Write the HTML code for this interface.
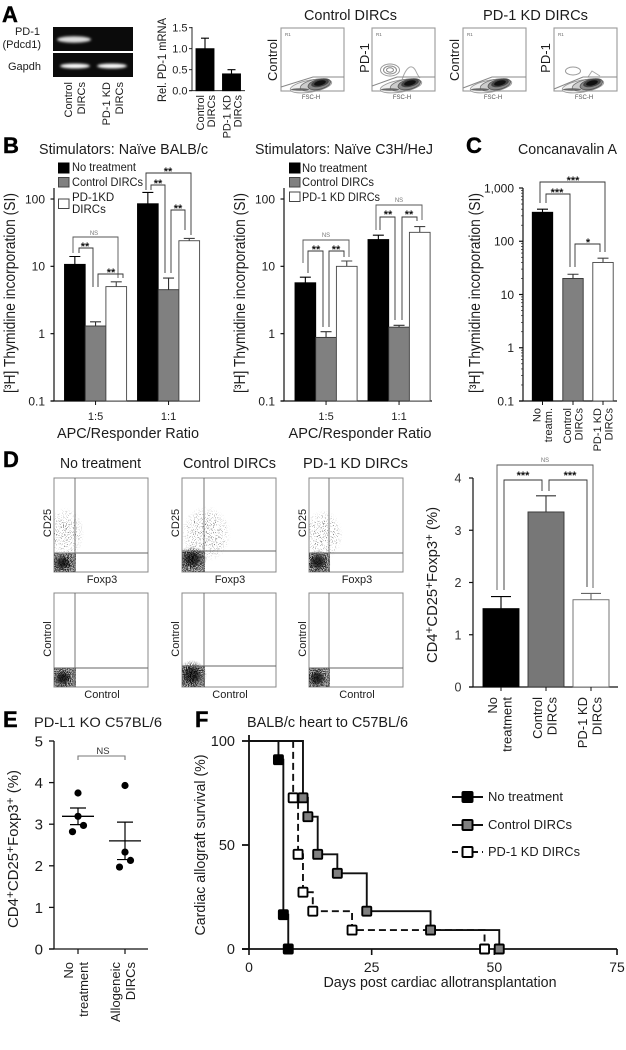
<!DOCTYPE html>
<html lang="en">
<head>
<meta charset="utf-8">
<title>PD-1 KD DIRCs figure</title>
<style>
html,body{margin:0;padding:0;background:#fff;}
#figure{display:block;width:626px;height:1050px;filter:blur(0.35px);font-family:"Liberation Sans",Arial,sans-serif;fill:#1c1c1c;}
</style>
</head>
<body>
<svg id="figure" xmlns="http://www.w3.org/2000/svg" width="626" height="1050" viewBox="0 0 626 1050">
<defs>
  <filter id="speckle" x="-5%" y="-5%" width="110%" height="110%"><feTurbulence type="fractalNoise" baseFrequency="0.95" numOctaves="1" seed="4" result="n"/><feColorMatrix in="n" type="matrix" values="0 0 0 0 0  0 0 0 0 0  0 0 0 0 0  7 0 0 0 -3" result="t"/><feComposite in="SourceGraphic" in2="t" operator="in"/></filter>
  <filter id="speckleSparse" x="-5%" y="-5%" width="110%" height="110%"><feTurbulence type="fractalNoise" baseFrequency="0.9" numOctaves="1" seed="9" result="n"/><feColorMatrix in="n" type="matrix" values="0 0 0 0 0  0 0 0 0 0  0 0 0 0 0  10 0 0 0 -5.8" result="t"/><feComposite in="SourceGraphic" in2="t" operator="in"/></filter>
  <filter id="soft" x="-30%" y="-60%" width="160%" height="220%"><feGaussianBlur stdDeviation="1.3"/></filter>
  <radialGradient id="denseCloud"><stop offset="0" stop-color="#000" stop-opacity="1"/><stop offset="0.6" stop-color="#111" stop-opacity="0.9"/><stop offset="1" stop-color="#333" stop-opacity="0"/></radialGradient>
  <radialGradient id="sparseCloud"><stop offset="0" stop-color="#333" stop-opacity="0.85"/><stop offset="0.7" stop-color="#444" stop-opacity="0.55"/><stop offset="1" stop-color="#555" stop-opacity="0"/></radialGradient>
  <g id="contour">
    <ellipse cx="-9" cy="3" rx="21" ry="6" transform="rotate(-10 -9 3)" fill="#eee" stroke="#999" stroke-width="0.9"/>
    <ellipse cx="-5" cy="2" rx="15" ry="5.5" transform="rotate(-12 -5 2)" fill="#ccc" stroke="#777" stroke-width="0.8"/>
    <ellipse cx="-1" cy="1" rx="11.5" ry="5" transform="rotate(-14)" fill="#888" stroke="#555" stroke-width="0.8"/>
    <ellipse cx="0" cy="0" rx="9" ry="3.8" transform="rotate(-14)" fill="#444"/>
    <ellipse cx="0" cy="0" rx="6" ry="2.4" transform="rotate(-14)" fill="#111"/>
    <ellipse cx="-20" cy="6.5" rx="9" ry="1.3" fill="#666"/>
  </g>
</defs>

<g font-weight="700" font-size="22" fill="#000" stroke="#000" stroke-width="0.4">
  <text x="2" y="22">A</text>
  <text x="3" y="153">B</text>
  <text x="466" y="153">C</text>
  <text x="3" y="467">D</text>
  <text x="3" y="727">E</text>
  <text x="195" y="727">F</text>
</g>

<g>
  <text x="40" y="35" text-anchor="end" font-size="11">PD-1</text>
  <text x="41" y="48" text-anchor="end" font-size="11">(Pdcd1)</text>
  <text x="41" y="70" text-anchor="end" font-size="11">Gapdh</text>
  <rect x="53" y="27" width="80" height="24" fill="#0b0b0b"/>
  <rect x="53" y="53" width="80" height="24" fill="#0b0b0b"/>
  <ellipse cx="74" cy="39.5" rx="17" ry="3.2" fill="#ddd" filter="url(#soft)"/>
  <ellipse cx="75" cy="66" rx="15" ry="2.4" fill="#fff" filter="url(#soft)"/>
  <ellipse cx="112" cy="66" rx="15" ry="2.4" fill="#fff" filter="url(#soft)"/>
  <text transform="translate(72,82) rotate(-90)" text-anchor="end" font-size="11">Control</text>
  <text transform="translate(85,82) rotate(-90)" text-anchor="end" font-size="11">DIRCs</text>
  <text transform="translate(110,82) rotate(-90)" text-anchor="end" font-size="11">PD-1 KD</text>
  <text transform="translate(123,82) rotate(-90)" text-anchor="end" font-size="11">DIRCs</text>
</g>

<g>
  <text x="304" y="20" font-size="15" textLength="93" lengthAdjust="spacingAndGlyphs">Control DIRCs</text>
  <text x="483" y="20" font-size="15" textLength="105" lengthAdjust="spacingAndGlyphs">PD-1 KD DIRCs</text>
  <g>
    <rect x="281" y="28" width="63" height="63" fill="#fff" stroke="#999" stroke-width="1.1"/>
    <use href="#contour" x="320" y="83"/>
    <path d="M281 87L313 77H344" fill="none" stroke="#888"/>
    <text x="285" y="36" font-size="4.5" fill="#666">R1</text>
    <text x="311" y="99" font-size="6" text-anchor="middle" fill="#555">FSC-H</text>
    <text transform="translate(277,60) rotate(-90)" font-size="13" text-anchor="middle">Control</text>
  </g>
  <g>
    <rect x="372" y="28" width="63" height="63" fill="#fff" stroke="#999" stroke-width="1.1"/>
    <ellipse cx="390" cy="70" rx="9.5" ry="6" fill="none" stroke="#999"/>
    <ellipse cx="390" cy="70" rx="6.5" ry="4" fill="none" stroke="#888"/>
    <ellipse cx="390" cy="70" rx="3.5" ry="2.2" fill="none" stroke="#888"/>
    <path d="M402 80C405 70 409 66 412 67C416 68 416 74 420 78" fill="none" stroke="#aaa"/>
    <use href="#contour" x="410" y="83"/>
    <path d="M372 86L397 77H435" fill="none" stroke="#888"/>
    <text x="376" y="36" font-size="4.5" fill="#666">R1</text>
    <text x="402" y="99" font-size="6" text-anchor="middle" fill="#555">FSC-H</text>
    <text transform="translate(369,58) rotate(-90)" font-size="13" text-anchor="middle">PD-1</text>
  </g>
  <g>
    <rect x="463" y="28" width="63" height="63" fill="#fff" stroke="#999" stroke-width="1.1"/>
    <use href="#contour" x="500" y="83"/>
    <path d="M463 88L492 77H526" fill="none" stroke="#888"/>
    <text x="467" y="36" font-size="4.5" fill="#666">R1</text>
    <text x="493" y="99" font-size="6" text-anchor="middle" fill="#555">FSC-H</text>
    <text transform="translate(459,60) rotate(-90)" font-size="13" text-anchor="middle">Control</text>
  </g>
  <g>
    <rect x="554" y="28" width="63" height="63" fill="#fff" stroke="#999" stroke-width="1.1"/>
    <ellipse cx="573" cy="71" rx="7.5" ry="4" fill="none" stroke="#999"/>
    <path d="M588 77L592 71L600 76" fill="none" stroke="#aaa"/>
    <use href="#contour" x="592" y="83"/>
    <path d="M554 89L583 77H617" fill="none" stroke="#888"/>
    <text x="558" y="36" font-size="4.5" fill="#666">R1</text>
    <text x="584" y="99" font-size="6" text-anchor="middle" fill="#555">FSC-H</text>
    <text transform="translate(550,58) rotate(-90)" font-size="13" text-anchor="middle">PD-1</text>
  </g>
</g>

<g id="mrnaChart">
  <text transform="translate(166,60) rotate(-90)" text-anchor="middle" font-size="11.5" textLength="84" lengthAdjust="spacingAndGlyphs">Rel. PD-1 mRNA</text>
</g>

<g id="balbChart">
  <text x="39" y="154" font-size="15" textLength="169" lengthAdjust="spacingAndGlyphs">Stimulators: Naïve BALB/c</text>
  <text transform="translate(15,293) rotate(-90)" text-anchor="middle" font-size="15.5" textLength="200" lengthAdjust="spacingAndGlyphs">[³H] Thymidine incorporation (SI)</text>
  <text x="128" y="438" text-anchor="middle" font-size="15" textLength="142" lengthAdjust="spacingAndGlyphs">APC/Responder Ratio</text>
  <g>
    <rect x="58.5" y="163" width="10.5" height="10" fill="#000" stroke="#000"/>
    <rect x="58.5" y="177.5" width="10.5" height="9.5" fill="#808080" stroke="#444"/>
    <rect x="58.5" y="199" width="10.5" height="9.5" fill="#fff" stroke="#444"/>
    <text x="72" y="171" font-size="11.5" textLength="64" lengthAdjust="spacingAndGlyphs">No treatment</text>
    <text x="72" y="186" font-size="11.5" textLength="71" lengthAdjust="spacingAndGlyphs">Control DIRCs</text>
    <text x="72" y="201" font-size="11.5">PD-1KD</text>
    <text x="72" y="213" font-size="11.5">DIRCs</text>
  </g>
</g>

<g id="c3hChart">
  <text x="255" y="154" font-size="15" textLength="178" lengthAdjust="spacingAndGlyphs">Stimulators: Naïve C3H/HeJ</text>
  <text transform="translate(245,293) rotate(-90)" text-anchor="middle" font-size="15.5" textLength="200" lengthAdjust="spacingAndGlyphs">[³H] Thymidine incorporation (SI)</text>
  <text x="360" y="438" text-anchor="middle" font-size="15" textLength="143" lengthAdjust="spacingAndGlyphs">APC/Responder Ratio</text>
  <g>
    <rect x="289.5" y="163" width="10.5" height="10" fill="#000" stroke="#000"/>
    <rect x="289.5" y="177.5" width="10.5" height="9.5" fill="#808080" stroke="#444"/>
    <rect x="289.5" y="192" width="10.5" height="9.5" fill="#fff" stroke="#444"/>
    <text x="302" y="172" font-size="11.5" textLength="65" lengthAdjust="spacingAndGlyphs">No treatment</text>
    <text x="302" y="186" font-size="11.5" textLength="72" lengthAdjust="spacingAndGlyphs">Control DIRCs</text>
    <text x="302" y="201" font-size="11.5" textLength="78" lengthAdjust="spacingAndGlyphs">PD-1 KD DIRCs</text>
  </g>
</g>

<g id="conaChart">
  <text x="518" y="154" font-size="14.5" textLength="99" lengthAdjust="spacingAndGlyphs">Concanavalin A</text>
  <text transform="translate(480,293) rotate(-90)" text-anchor="middle" font-size="15.5" textLength="200" lengthAdjust="spacingAndGlyphs">[³H] Thymidine incorporation (SI)</text>
</g>

<g fill="none" stroke="#333" stroke-width="0.9">
  <path d="M73 253V237H118V278" stroke="#555"/>
  <path d="M79 253V248H93V287"/>
  <path d="M98 287V274H123V278"/>
  <path d="M146 190V173H191V235"/>
  <path d="M151 190V185H165V273"/>
  <path d="M171 273V210H185V230"/>
  <path d="M303 263V240H349V257" stroke="#555"/>
  <path d="M308 273V251H323V327"/>
  <path d="M329 327V251H344V257"/>
  <path d="M376 230V205H422V220" stroke="#555"/>
  <path d="M380 230V217H395V320"/>
  <path d="M402 320V217H417V221"/>
  <path d="M540 203V182H605V252"/>
  <path d="M546 203V194H570V267"/>
  <path d="M575 267V244H600V252"/>
  <path d="M497 590V465H593V588" stroke="#555"/>
  <path d="M504 590V480H542V491"/>
  <path d="M549 491V480H587V587"/>
  <path d="M78 760V756H125V760" stroke="#777" stroke-width="1.1"/>
</g>
<g text-anchor="middle" font-size="11" font-weight="700" fill="#111">
  <text x="94" y="235" font-size="6" font-weight="400" fill="#777">NS</text>
  <text x="85" y="250">**</text>
  <text x="111" y="276">**</text>
  <text x="168" y="175">**</text>
  <text x="158" y="187">**</text>
  <text x="178" y="212">**</text>
  <text x="326" y="237" font-size="6" font-weight="400" fill="#777">NS</text>
  <text x="316" y="253">**</text>
  <text x="336" y="253">**</text>
  <text x="399" y="202" font-size="6" font-weight="400" fill="#777">NS</text>
  <text x="388" y="218">**</text>
  <text x="409" y="218">**</text>
  <text x="573" y="184">***</text>
  <text x="557" y="196">***</text>
  <text x="588" y="246">*</text>
  <text x="545" y="462" font-size="6" font-weight="400" fill="#777">NS</text>
  <text x="523" y="479">***</text>
  <text x="570" y="479">***</text>
  <text x="103" y="754" font-size="9.5" font-weight="400" fill="#333">NS</text>
</g>

<g id="dFlow">
  <text x="60" y="468" font-size="15" textLength="81" lengthAdjust="spacingAndGlyphs">No treatment</text>
  <text x="183" y="468" font-size="15" textLength="93" lengthAdjust="spacingAndGlyphs">Control DIRCs</text>
  <text x="303" y="468" font-size="15" textLength="105" lengthAdjust="spacingAndGlyphs">PD-1 KD DIRCs</text>
</g>

<g id="tregChart">
  <text transform="translate(437,585) rotate(-90)" text-anchor="middle" font-size="15" textLength="156" lengthAdjust="spacingAndGlyphs">CD4<tspan dy="-4" font-size="12">+</tspan><tspan dy="4">CD25</tspan><tspan dy="-4" font-size="12">+</tspan><tspan dy="4">Foxp3</tspan><tspan dy="-4" font-size="12">+</tspan><tspan dy="4"> (%)</tspan></text>
</g>

<g id="koChart">
  <text x="34" y="727" font-size="14" textLength="128" lengthAdjust="spacingAndGlyphs">PD-L1 KO C57BL/6</text>
  <text transform="translate(18,849) rotate(-90)" text-anchor="middle" font-size="15" textLength="158" lengthAdjust="spacingAndGlyphs">CD4<tspan dy="-4" font-size="12">+</tspan><tspan dy="4">CD25</tspan><tspan dy="-4" font-size="12">+</tspan><tspan dy="4">Foxp3</tspan><tspan dy="-4" font-size="12">+</tspan><tspan dy="4"> (%)</tspan></text>
</g>

<g id="survivalChart">
  <text x="247" y="727" font-size="14.5" textLength="161" lengthAdjust="spacingAndGlyphs">BALB/c heart to C57BL/6</text>
  <text transform="translate(205,845) rotate(-90)" text-anchor="middle" font-size="14.5" textLength="181" lengthAdjust="spacingAndGlyphs">Cardiac allograft survival (%)</text>
  <text x="440" y="987" text-anchor="middle" font-size="14.5" textLength="233" lengthAdjust="spacingAndGlyphs">Days post cardiac allotransplantation</text>
  <g>
    <path d="M452 797H483" stroke="#111" stroke-width="2"/>
    <rect x="462.5" y="792" width="10" height="10" rx="1" fill="#000" stroke="#000" stroke-width="2"/>
    <text x="488" y="801" font-size="13" textLength="75" lengthAdjust="spacingAndGlyphs">No treatment</text>
    <path d="M452 825H483" stroke="#111" stroke-width="2"/>
    <rect x="462.5" y="820" width="10" height="10" rx="1" fill="#808080" stroke="#000" stroke-width="2"/>
    <text x="488" y="829" font-size="13" textLength="84" lengthAdjust="spacingAndGlyphs">Control DIRCs</text>
    <path d="M452 852H483" stroke="#111" stroke-width="2" stroke-dasharray="6 4"/>
    <rect x="462.5" y="847" width="10" height="10" rx="1" fill="#fff" stroke="#000" stroke-width="2"/>
    <text x="488" y="856" font-size="13" textLength="92" lengthAdjust="spacingAndGlyphs">PD-1 KD DIRCs</text>
  </g>
</g>
</svg>

<script>
// ---- Panel A: relative PD-1 mRNA ----
const mrnaCategories = [['Control','DIRCs'],['PD-1 KD','DIRCs']];
const mrnaValues = [1.0, 0.4];
const mrnaUpper = [1.25, 0.5];
const mrnaTicks = [0, 0.5, 1, 1.5];
const mrnaTickLabels = ['0.0','0.5','1.0','1.5'];

// ---- Panel B: BALB/c stimulators ----
const balbRatios = ['1:5','1:1'];
const balbNoTreatment = [10.7, 85];
const balbNoTreatmentUpper = [14, 125];
const balbControl = [1.3, 4.5];
const balbControlUpper = [1.5, 6.7];
const balbKd = [5, 24];
const balbKdUpper = [5.9, 26];

// ---- Panel B: C3H/HeJ stimulators ----
const c3hRatios = ['1:5','1:1'];
const c3hNoTreatment = [5.7, 25];
const c3hNoTreatmentUpper = [6.9, 29];
const c3hControl = [0.88, 1.25];
const c3hControlUpper = [1.07, 1.33];
const c3hKd = [10, 32];
const c3hKdUpper = [12, 39];

const logTicks = [0.1, 1, 10, 100];
const logTickLabels = ['0.1','1','10','100'];

// ---- Panel C: Concanavalin A ----
const conaCategories = [['No','treatm.'],['Control','DIRCs'],['PD-1 KD','DIRCs']];
const conaValues = [350, 20, 40];
const conaUpper = [400, 24, 48];
const conaTicks = [0.1, 1, 10, 100, 1000];
const conaTickLabels = ['0.1','1','10','100','1,000'];

// ---- Panel D: Treg bar chart ----
const tregCategories = [['No','treatment'],['Control','DIRCs'],['PD-1 KD','DIRCs']];
const tregValues = [1.5, 3.35, 1.67];
const tregUpper = [1.73, 3.66, 1.79];
const tregTicks = [0, 1, 2, 3, 4];

// ---- Panel E: PD-L1 KO scatter ----
const koCategories = [['No','treatment'],['Allogeneic','DIRCs']];
const koPointsNoTreatment = [3.75, 3.19, 2.97, 2.82];
const koPointsAllogeneic = [3.93, 2.33, 2.13, 1.97];
const koMeans = [3.19, 2.6];
const koUpper = [3.39, 3.05];
const koLower = [2.99, 2.15];
const koTicks = [0, 1, 2, 3, 4, 5];

// ---- Panel F: survival ----
const survivalDaysNoTreatment = [6, 7, 8];
const survivalNoTreatment = [91, 16.5, 0];
const survivalDaysControl = [11, 12, 14, 18, 24, 37, 51];
const survivalControl = [72.7, 63.6, 45.5, 36.4, 18.2, 9.1, 0];
const survivalDaysKd = [9, 10, 11, 13, 21, 48];
const survivalKd = [72.7, 45.5, 27.3, 18.2, 9.1, 0];
const survivalXTicks = [0, 25, 50, 75];
const survivalYTicks = [0, 50, 100];

const SVGNS = 'http://www.w3.org/2000/svg';
function make(parent, tag, attrs, text) {
  const node = document.createElementNS(SVGNS, tag);
  for (const k in attrs) node.setAttribute(k, attrs[k]);
  if (text !== undefined) node.textContent = text;
  parent.appendChild(node);
  return node;
}
function named(node, name, interactive) {
  
  
  return node;
}
function linearAxis(y0, pxPerUnit) { return v => y0 - v * pxPerUnit; }
function logAxis(yMin, minValue, pxPerDecade) { return v => yMin - Math.log10(v / minValue) * pxPerDecade; }

function drawAxes(g, cfg) {
  const spine = make(g, 'path', {d:`M${cfg.x} ${cfg.top}V${cfg.base}`, stroke:cfg.color||'#111', 'stroke-width':cfg.sw||1.2, fill:'none'});
  named(spine, 'y-axis-line');
  const floor = make(g, 'path', {d:`M${cfg.x - cfg.tick} ${cfg.base}H${cfg.right}`, stroke:cfg.color||'#111', 'stroke-width':cfg.sw||1.2, fill:'none'});
  named(floor, 'x-axis-line');
  cfg.ticks.forEach((t, i) => {
    const y = cfg.y(t);
    const tick = make(g, 'path', {d:`M${cfg.x - cfg.tick} ${y}H${cfg.x}`, stroke:cfg.color||'#111', 'stroke-width':cfg.sw||1.2});
    named(tick, 'y-axis-tick');
    const lab = make(g, 'text', {x:cfg.labelX, y:y + cfg.fs * 0.36, 'text-anchor':cfg.anchor||'end', 'font-size':cfg.fs, fill:cfg.labelColor||'#1c1c1c'}, cfg.labels ? cfg.labels[i] : String(t));
    named(lab, 'y-tick-label');
  });
}
function drawBar(g, x, w, value, upper, y, base, fill, stroke, capW, name) {
  const cx = x + w / 2;
  const err = make(g, 'path', {d:`M${cx} ${y(value)}V${y(upper)}M${cx - capW / 2} ${y(upper)}H${cx + capW / 2}`, stroke:stroke, 'stroke-width':1.1, fill:'none'});
  named(err, name + '-error-bar');
  const bar = make(g, 'rect', {x:x, y:y(value), width:w, height:base - y(value), fill:fill, stroke:stroke, 'stroke-width':0.9});
  named(bar, name);
}
function drawRotatedCategories(g, cats, centers, offset, gap, top, fs) {
  cats.forEach((lines, i) => {
    lines.forEach((line, j) => {
      const t = make(g, 'text', {transform:`translate(${centers[i] + offset + j * gap},${top}) rotate(-90)`, 'text-anchor':'end', 'font-size':fs}, line);
      named(t, 'category-label');
    });
  });
}

// Panel A chart
(function () {
  const g = document.getElementById('mrnaChart');
  const y = linearAxis(90.7, 42);
  const centers = [205, 231.5];
  drawAxes(g, {x:192, top:27, base:90.7, right:245, tick:3, ticks:mrnaTicks, labels:mrnaTickLabels, y:y, labelX:187.5, fs:11, sw:0.9});
  mrnaValues.forEach((v, i) => {
    drawBar(g, centers[i] - 9, 18, v, mrnaUpper[i], y, 90.7, '#000', '#000', 8, 'mrna-bar-' + i);
  });
  drawRotatedCategories(g, mrnaCategories, centers, -1, 11, 95, 11);
})();

// Panel B charts
function drawGrouped(g, cfg, groups, series) {
  const y = logAxis(401, 0.1, 67.33);
  drawAxes(g, {x:cfg.axisX, top:188, base:401, right:cfg.right, tick:3.5, ticks:logTicks, labels:logTickLabels, y:y, labelX:cfg.axisX - 9, fs:12});
  groups.forEach((label, gi) => {
    const gx = cfg.start + gi * cfg.step;
    series.forEach((s, si) => {
      drawBar(g, gx + si * cfg.barW, cfg.barW, s.values[gi], s.upper[gi], y, 401, s.fill, s.stroke, 11, cfg.prefix + '-bar-' + s.key + '-' + label);
    });
    const tick = make(g, 'path', {d:`M${gx + 1.5 * cfg.barW} 401v4`, stroke:'#111', 'stroke-width':1});
    named(tick, 'x-axis-tick');
    const t = make(g, 'text', {x:gx + 1.5 * cfg.barW, y:420, 'text-anchor':'middle', 'font-size':11}, label);
    named(t, 'x-tick-label');
  });
}
drawGrouped(document.getElementById('balbChart'), {prefix:'balb', axisX:54, right:200, start:64.5, step:73, barW:20.7}, balbRatios, [
  {key:'no-treatment', values:balbNoTreatment, upper:balbNoTreatmentUpper, fill:'#000', stroke:'#000'},
  {key:'control', values:balbControl, upper:balbControlUpper, fill:'#808080', stroke:'#333'},
  {key:'kd', values:balbKd, upper:balbKdUpper, fill:'#fff', stroke:'#444'}
]);
drawGrouped(document.getElementById('c3hChart'), {prefix:'c3h', axisX:284, right:432, start:295, step:73, barW:20.7}, c3hRatios, [
  {key:'no-treatment', values:c3hNoTreatment, upper:c3hNoTreatmentUpper, fill:'#000', stroke:'#000'},
  {key:'control', values:c3hControl, upper:c3hControlUpper, fill:'#808080', stroke:'#333'},
  {key:'kd', values:c3hKd, upper:c3hKdUpper, fill:'#fff', stroke:'#444'}
]);

// Panel C chart
(function () {
  const g = document.getElementById('conaChart');
  const y = logAxis(401, 0.1, 53.25);
  const centers = [542.5, 573, 603];
  const fills = ['#000', '#808080', '#fff'];
  const strokes = ['#000', '#333', '#444'];
  drawAxes(g, {x:523, top:188, base:401, right:617, tick:4, ticks:conaTicks, labels:conaTickLabels, y:y, labelX:514, fs:12});
  conaTicks.slice(0, -1).forEach(decade => {
    for (let m = 2; m < 10; m++) {
      const minor = make(g, 'path', {d:`M${523 - 2} ${y(decade * m)}H523`, stroke:'#222', 'stroke-width':0.7});
      named(minor, 'y-axis-minor-tick');
    }
  });
  conaValues.forEach((v, i) => {
    drawBar(g, centers[i] - 10.2, 20.4, v, conaUpper[i], y, 401, fills[i], strokes[i], 11, 'cona-bar-' + i);
    const tick = make(g, 'path', {d:`M${centers[i]} 401v4`, stroke:'#111', 'stroke-width':1});
    named(tick, 'x-axis-tick');
  });
  drawRotatedCategories(g, conaCategories, centers, -2, 11.5, 408, 11);
})();

// Panel D flow plots
function flowPlot(g, x, y, gateX, gateY, core, sparse, xLabel, yLabel, name) {
  const S = 94;
  const clipId = 'clip-' + name;
  const plot = make(g, 'g', {});
  named(plot, name);
  const clip = make(plot, 'clipPath', {id:clipId});
  make(clip, 'rect', {x:x, y:y, width:S, height:S});
  const frame = make(plot, 'rect', {x:x, y:y, width:S, height:S, fill:'#fff', stroke:'#888', 'stroke-width':1});
  named(frame, 'flow-frame');
  const inner = make(plot, 'g', {'clip-path':`url(#${clipId})`});
  named(inner, 'flow-events');
  if (sparse) {
    const cloud = make(inner, 'ellipse', {cx:sparse[0], cy:sparse[1], rx:sparse[2], ry:sparse[3], fill:'url(#sparseCloud)', filter:'url(#speckleSparse)'});
    named(cloud, 'sparse-event-cloud');
  }
  const wash = make(inner, 'rect', {x:x, y:gateY, width:gateX - x + 1, height:y + S - gateY, fill:'#888', opacity:0.55});
  named(wash, 'lower-left-quadrant-tone');
  const quadrant = make(inner, 'rect', {x:x, y:gateY, width:gateX - x + 1, height:y + S - gateY, fill:'#333', opacity:0.8, filter:'url(#speckle)'});
  named(quadrant, 'lower-left-quadrant-events');
  const blob = make(inner, 'ellipse', {cx:core[0], cy:core[1], rx:core[2], ry:core[3], fill:'url(#denseCloud)', filter:'url(#speckle)'});
  named(blob, 'dense-event-cloud');
  const blob2 = make(inner, 'ellipse', {cx:core[0], cy:core[1], rx:core[2] * 0.65, ry:core[3] * 0.65, fill:'url(#denseCloud)', opacity:0.7});
  named(blob2, 'dense-event-core');
  const gate = make(plot, 'path', {d:`M${gateX} ${y}V${y + S}M${x} ${gateY}H${x + S}`, stroke:'#666', 'stroke-width':0.9, fill:'none'});
  named(gate, 'quadrant-gate');
  const xl = make(plot, 'text', {x:x + 48, y:y + S + 11, 'text-anchor':'middle', 'font-size':11}, xLabel);
  named(xl, 'flow-x-label');
  const yl = make(plot, 'text', {transform:`translate(${x - 3},${y + (yLabel === 'CD25' ? 45 : 46)}) rotate(-90)`, 'text-anchor':'middle', 'font-size':11}, yLabel);
  named(yl, 'flow-y-label');
}
(function () {
  const g = document.getElementById('dFlow');
  flowPlot(g, 54, 478, 75, 553, [63,563,12,11], [66,533,18,26], 'Foxp3', 'CD25', 'flow-no-treatment-cd25');
  flowPlot(g, 182, 478, 204, 551, [192,559,15,13], [206,534,25,28], 'Foxp3', 'CD25', 'flow-control-cd25');
  flowPlot(g, 309, 478, 329, 553, [318,562,13,12], [323,535,20,25], 'Foxp3', 'CD25', 'flow-kd-cd25');
  flowPlot(g, 54, 593, 75, 668, [63,678,12,11], null, 'Control', 'Control', 'flow-no-treatment-control');
  flowPlot(g, 182, 593, 204, 666, [192,675,15,15], null, 'Control', 'Control', 'flow-control-control');
  flowPlot(g, 309, 593, 329, 668, [317,678,12,11], null, 'Control', 'Control', 'flow-kd-control');
})();

// Panel D chart
(function () {
  const g = document.getElementById('tregChart');
  const y = linearAxis(687, 52.25);
  const centers = [501, 546, 591];
  const fills = ['#000', '#777', '#fff'];
  const strokes = ['#000', '#333', '#666'];
  drawAxes(g, {x:473, top:478, base:687, right:618, tick:4, ticks:tregTicks, y:y, labelX:458, anchor:'middle', fs:12.5, labelColor:'#333'});
  tregValues.forEach((v, i) => {
    drawBar(g, centers[i] - 18, 36, v, tregUpper[i], y, 687, fills[i], strokes[i], 20, 'treg-bar-' + i);
    const tick = make(g, 'path', {d:`M${centers[i]} 687v4`, stroke:'#111', 'stroke-width':1});
    named(tick, 'x-axis-tick');
  });
  drawRotatedCategories(g, tregCategories, centers, -4, 14.5, 697, 13);
})();

// Panel E chart
(function () {
  const g = document.getElementById('koChart');
  const y = linearAxis(949, 41.6);
  const centers = [78, 125];
  drawAxes(g, {x:54, top:741, base:949, right:148, tick:5, ticks:koTicks, y:y, labelX:43, fs:15, sw:1.3});
  [koPointsNoTreatment, koPointsAllogeneic].forEach((points, gi) => {
    points.forEach((p, i) => {
      const off = i < 2 ? 0 : (i === 2 ? 5.5 : -5.5);
      const dot = make(g, 'circle', {cx:centers[gi] + off, cy:y(p), r:3.6, fill:'#000'});
      named(dot, 'ko-point-group-' + gi);
    });
    const cx = centers[gi];
    const mean = make(g, 'path', {d:`M${cx - 16} ${y(koMeans[gi])}H${cx + 16}`, stroke:'#000', 'stroke-width':1.3});
    named(mean, 'ko-mean-line');
    const err = make(g, 'path', {d:`M${cx} ${y(koUpper[gi])}V${y(koLower[gi])}M${cx - 8} ${y(koUpper[gi])}H${cx + 8}M${cx - 8} ${y(koLower[gi])}H${cx + 8}`, stroke:'#000', 'stroke-width':1.2, fill:'none'});
    named(err, 'ko-error-bar');
    const tick = make(g, 'path', {d:`M${cx} 949v5`, stroke:'#111', 'stroke-width':1.2});
    named(tick, 'x-axis-tick');
  });
  drawRotatedCategories(g, koCategories, centers, -5, 15, 962, 13);
})();

// Panel F chart
(function () {
  const g = document.getElementById('survivalChart');
  const x = d => 249 + d * 4.907;
  const y = linearAxis(949, 2.08);
  drawAxes(g, {x:249, top:735, base:949, right:617, tick:7, ticks:survivalYTicks, y:y, labelX:235, fs:14.5, sw:1.8});
  survivalXTicks.forEach(t => {
    const tick = make(g, 'path', {d:`M${x(t)} 949v6`, stroke:'#111', 'stroke-width':1.6});
    named(tick, 'x-axis-tick');
    const lab = make(g, 'text', {x:x(t), y:972, 'text-anchor':'middle', 'font-size':14}, String(t));
    named(lab, 'x-tick-label');
  });
  function series(days, surv, fill, dash, name) {
    let d = `M${x(0)} ${y(100)}`;
    days.forEach((day, i) => { d += `H${x(day)}V${y(surv[i])}`; });
    const line = make(g, 'path', {d:d, fill:'none', stroke:'#111', 'stroke-width':1.9});
    if (dash) line.setAttribute('stroke-dasharray', dash);
    named(line, name + '-survival-line');
    return () => days.forEach((day, i) => {
      const m = make(g, 'rect', {x:x(day) - 4.5, y:y(surv[i]) - 4.5, width:9, height:9, rx:1, fill:fill, stroke:'#000', 'stroke-width':1.9});
      named(m, name + '-survival-marker');
    });
  }
  const drawKd = series(survivalDaysKd, survivalKd, '#fff', '7 4', 'kd');
  const drawCtl = series(survivalDaysControl, survivalControl, '#808080', null, 'control');
  const drawNo = series(survivalDaysNoTreatment, survivalNoTreatment, '#000', null, 'no-treatment');
  drawCtl(); drawKd(); drawNo();
})();
</script>
</body>
</html>
